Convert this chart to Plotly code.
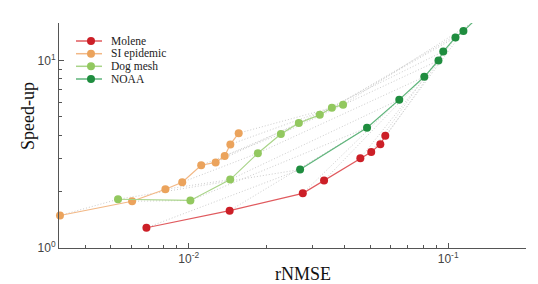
import plotly.graph_objects as go

# ---- data ----
series_names = ["Molene", "SI epidemic", "Dog mesh", "NOAA"]

rnmse_molene = [0.00687, 0.01438, 0.02752, 0.03324, 0.04587, 0.05052, 0.05477, 0.05724]
speedup_molene = [1.282, 1.582, 1.956, 2.293, 3.012, 3.254, 3.578, 3.963]

rnmse_si = [0.00319, 0.00605, 0.00813, 0.00944, 0.01117, 0.0127, 0.01376, 0.01447, 0.01558]
speedup_si = [1.491, 1.775, 2.058, 2.243, 2.764, 2.861, 3.099, 3.569, 4.097]

rnmse_dog = [0.00534, 0.01015, 0.01445, 0.01847, 0.02266, 0.02657, 0.0320, 0.03563, 0.03935]
speedup_dog = [1.820, 1.793, 2.316, 3.204, 4.056, 4.644, 5.131, 5.591, 5.816]

rnmse_noaa = [0.02687, 0.04867, 0.06479, 0.08091, 0.09176, 0.09574, 0.1067, 0.1145, 0.1243]
speedup_noaa = [2.622, 4.383, 6.184, 8.185, 10.0, 11.17, 13.27, 14.35, 15.99]

x_tick_vals = [0.01, 0.1]
x_tick_text = ["10<sup>-2</sup>", "10<sup>-1</sup>"]
y_tick_vals = [1, 10]
y_tick_text = ["10<sup>0</sup>", "10<sup>1</sup>"]

# ---- styles ----
marker_colors = ["#cc1f27", "#eba35c", "#92c85f", "#1f8d3f"]
line_colors = ["#e05a5e", "#f2b886", "#a9d489", "#5fb57b"]
dot_color = "#cdcdcd"
SERIF = "Liberation Serif, Times New Roman, serif"
SANS = "Liberation Sans, Arial, sans-serif"

xs = [rnmse_molene, rnmse_si, rnmse_dog, rnmse_noaa]
ys = [speedup_molene, speedup_si, speedup_dog, speedup_noaa]

fig = go.Figure()

# dotted connectors between corresponding points of the datasets
n = len(rnmse_noaa)
for i in range(n):
    cx = [rnmse_si[i], rnmse_dog[i], rnmse_noaa[i]]
    cy = [speedup_si[i], speedup_dog[i], speedup_noaa[i]]
    fig.add_trace(go.Scatter(x=cx, y=cy, mode="lines", showlegend=False, hoverinfo="skip",
                             line=dict(color=dot_color, width=1, dash="1px,2px")))
    if i < len(rnmse_molene):
        fig.add_trace(go.Scatter(x=[rnmse_molene[i], rnmse_noaa[i]],
                                 y=[speedup_molene[i], speedup_noaa[i]],
                                 mode="lines", showlegend=False, hoverinfo="skip",
                                 line=dict(color=dot_color, width=1, dash="1px,2px")))

for k in range(4):
    fig.add_trace(go.Scatter(x=xs[k], y=ys[k], mode="lines+markers", name=series_names[k],
                             showlegend=False, cliponaxis=False,
                             line=dict(color=line_colors[k], width=1.2),
                             marker=dict(color=marker_colors[k], size=8)))

# custom compact legend drawn on a hidden pixel-like overlay axis
leg_rows = [41, 53.7, 66.3, 79]
for k in range(4):
    fig.add_trace(go.Scatter(x=[76, 102], y=[leg_rows[k]] * 2, mode="lines", xaxis="x2", yaxis="y2",
                             showlegend=False, hoverinfo="skip", cliponaxis=False,
                             line=dict(color=line_colors[k], width=1.5)))
    fig.add_trace(go.Scatter(x=[91], y=[leg_rows[k]], mode="markers", xaxis="x2", yaxis="y2",
                             showlegend=False, hoverinfo="skip", cliponaxis=False,
                             marker=dict(color=marker_colors[k], size=8)))
    fig.add_annotation(x=110, y=leg_rows[k], xref="x2", yref="y2", text=series_names[k],
                       showarrow=False, xanchor="left", yanchor="middle", borderpad=0,
                       font=dict(family=SERIF, size=11.5, color="#222"))

fig.add_annotation(x=(303 - 59) / 467, y=(248 - 274) / 225, xref="paper", yref="paper",
                   text="rNMSE", showarrow=False, xanchor="center", yanchor="middle",
                   font=dict(family=SERIF, size=18, color="#111"))
fig.add_annotation(x=(28 - 59) / 467, y=(248 - 116) / 225, xref="paper", yref="paper",
                   text="Speed-up", showarrow=False, textangle=-90, xanchor="center", yanchor="middle",
                   font=dict(family=SERIF, size=18, color="#111"))

axis_col = "#555555"
fig.update_layout(
    width=538, height=284,
    margin=dict(l=59, r=12, t=23, b=36),
    paper_bgcolor="white", plot_bgcolor="white",
    showlegend=False,
    hovermode=False,
    xaxis=dict(type="log", range=[-2.5, -0.7], showgrid=False, zeroline=False,
               showline=True, linecolor=axis_col, linewidth=1,
               ticks="inside", ticklen=5, tickcolor=axis_col, tickwidth=1,
               tickmode="array", tickvals=x_tick_vals, ticktext=x_tick_text,
               tickfont=dict(family=SANS, size=12, color="#444"),
               minor=dict(ticks="inside", ticklen=3, tickcolor=axis_col, tickwidth=1,
                          tickvals=[0.004, 0.005, 0.006, 0.007, 0.008, 0.009,
                                    0.02, 0.03, 0.04, 0.05, 0.06, 0.07, 0.08, 0.09])),
    yaxis=dict(type="log", range=[0, 1.2], showgrid=False, zeroline=False,
               showline=True, linecolor=axis_col, linewidth=1,
               ticks="inside", ticklen=5, tickcolor=axis_col, tickwidth=1,
               tickmode="array", tickvals=y_tick_vals, ticktext=y_tick_text,
               tickfont=dict(family=SANS, size=12, color="#444"),
               minor=dict(ticks="inside", ticklen=3, tickcolor=axis_col, tickwidth=1,
                          tickvals=[2, 3, 4, 5, 6, 7, 8, 9])),
    xaxis2=dict(overlaying="x", range=[59, 526], visible=False, fixedrange=True),
    yaxis2=dict(overlaying="y", range=[248, 23], visible=False, fixedrange=True),
)

fig.write_html("out.html",
               config={"displayModeBar": False, "staticPlot": True},
               post_script="document.body.style.margin='0';document.body.style.padding='0';"
                           "document.documentElement.style.overflow='hidden';")
